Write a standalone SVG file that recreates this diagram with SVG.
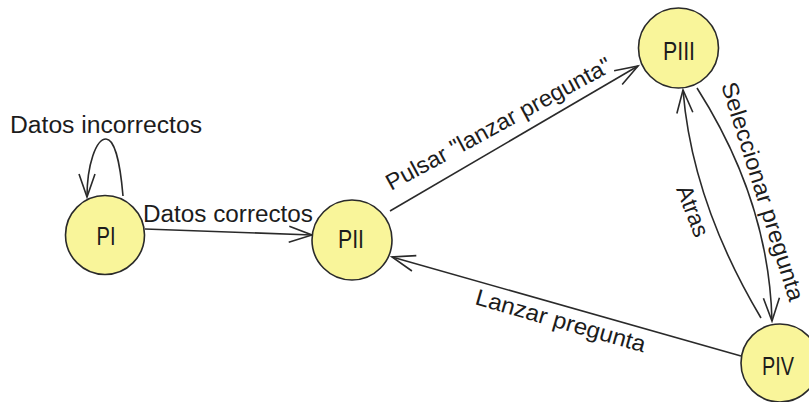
<svg xmlns="http://www.w3.org/2000/svg" width="809" height="402" viewBox="0 0 809 402">
  <style>
    .state { fill: #f9f59a; stroke: #2a2a2a; stroke-width: 1.6; }
    .name { font-family: "Liberation Sans", Arial, sans-serif; font-size: 25px; fill: #1c1c1c; text-anchor: middle; }
    .edge { fill: none; stroke: #2a2a2a; stroke-width: 1.6; }
    .label { font-family: "Liberation Sans", Arial, sans-serif; font-size: 23px; fill: #1c1c1c; }
  </style>
  <defs>
    <marker id="open-arrow" markerUnits="userSpaceOnUse" markerWidth="30" markerHeight="24" viewBox="-26 -12 30 24" refX="0" refY="0" orient="auto">
      <path d="M-23,-8 L0,0 L-23,8" fill="none" stroke="#2a2a2a" stroke-width="1.6"/>
    </marker>
  </defs>
  <rect width="809" height="402" fill="#ffffff"/>

  <g id="connectors">
    <!-- PI self loop -->
    <path class="edge" d="M123,196 C120,160 114,139 106,139 C96,139 87,165 87,197" marker-end="url(#open-arrow)"/>
    <!-- PI -> PII -->
    <path class="edge" d="M145,229 L312,235" marker-end="url(#open-arrow)"/>
    <!-- PII -> PIII -->
    <path class="edge" d="M390,211 L638,66" marker-end="url(#open-arrow)"/>
    <!-- PIII -> PIV -->
    <path class="edge" d="M697,88 Q769,201 772,321" marker-end="url(#open-arrow)"/>
    <!-- PIV -> PIII -->
    <path class="edge" d="M761,318 Q692,202 683,90" marker-end="url(#open-arrow)"/>
    <!-- PIV -> PII -->
    <path class="edge" d="M741,356 L392,257" marker-end="url(#open-arrow)"/>

    <text class="label" x="10" y="133" textLength="192" lengthAdjust="spacingAndGlyphs">Datos incorrectos</text>
    <text class="label" x="143" y="222" textLength="170" lengthAdjust="spacingAndGlyphs">Datos correctos</text>
    <text class="label" transform="translate(391,191) rotate(-28.5)" textLength="253" lengthAdjust="spacingAndGlyphs">Pulsar "lanzar pregunta"</text>
    <text class="label" transform="translate(474,304) rotate(16)" textLength="176" lengthAdjust="spacingAndGlyphs">Lanzar pregunta</text>
    <text class="label" transform="translate(721,85) rotate(72.5)" textLength="228" lengthAdjust="spacingAndGlyphs">Seleccionar pregunta</text>
    <text class="label" transform="translate(676,189) rotate(69)" textLength="53" lengthAdjust="spacingAndGlyphs">Atras</text>
  </g>

  <g id="PI">
    <circle class="state" cx="105" cy="235" r="39.5"/>
    <text class="name" x="106" y="245" textLength="19" lengthAdjust="spacingAndGlyphs">PI</text>
  </g>
  <g id="PII">
    <circle class="state" cx="352" cy="240" r="40"/>
    <text class="name" x="351" y="248" textLength="26" lengthAdjust="spacingAndGlyphs">PII</text>
  </g>
  <g id="PIII">
    <circle class="state" cx="678.5" cy="48" r="40"/>
    <text class="name" x="679" y="60" textLength="32" lengthAdjust="spacingAndGlyphs">PIII</text>
  </g>
  <g id="PIV">
    <circle class="state" cx="780" cy="363" r="39"/>
    <text class="name" x="778" y="375" textLength="32" lengthAdjust="spacingAndGlyphs">PIV</text>
  </g>
</svg>
